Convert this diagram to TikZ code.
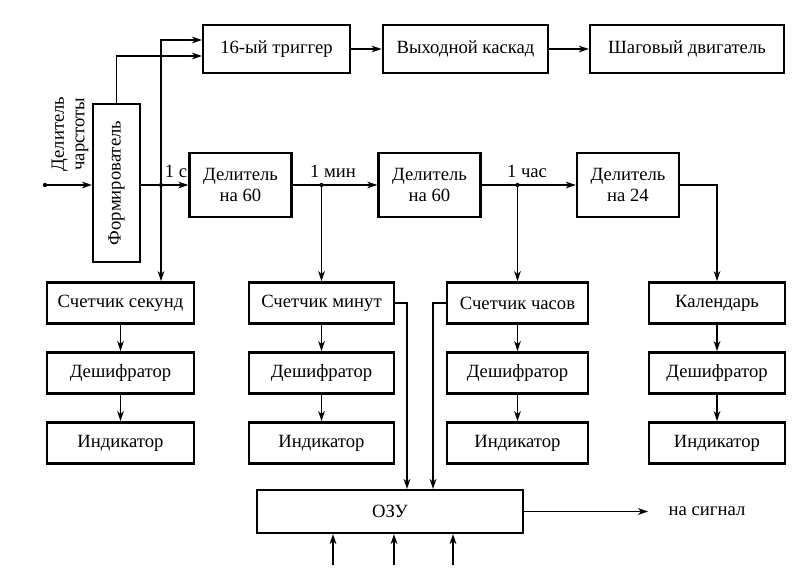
\documentclass[tikz,border=0pt]{standalone}
\usepackage{fontspec}
\setmainfont{Liberation Serif}
\usetikzlibrary{shapes,arrows.meta}
\usetikzlibrary{calc}
\tikzstyle{block} = [rectangle, draw, line width=1.8pt, text centered,
    minimum height=31pt, inner sep=2pt]
\tikzstyle{topblock} = [block, minimum height=36pt]
\tikzstyle{divblock} = [block, align=center, minimum width=76.5pt, minimum height=48pt]
\tikzstyle{link} = [-{Stealth[length=7.5pt,width=5pt,inset=2.2pt]}, line width=1.1pt]

\begin{document}
\begin{tikzpicture}[x=0.75pt, y=-0.75pt, node distance=52.5pt,
    font=\fontsize{14}{15.5}\selectfont]
    \useasboundingbox (0,0) rectangle (804,588);
    % top row
    \node [topblock, minimum width=110pt] (trig) at (276.5,49) {16-ый триггер};
    \node [topblock, minimum width=124pt] (kaskad) at (465.5,49) {Выходной каскад};
    \node [topblock, minimum width=145.5pt] (motor) at (687,49) {Шаговый двигатель};
    % shaper and dividers
    \node [block, minimum width=35pt, minimum height=118.5pt] (form) at (116.5,183) {\rotatebox{90}{Формирователь}};
    \node [divblock] (div1) at (240.5,185) {Делитель\\на 60};
    \node [divblock] (div2) at (429.5,185) {Делитель\\на 60};
    \node [divblock] (div3) at (628,185) {Делитель\\на 24};
    % counters, decoders, indicators
    \node [block, minimum width=110pt] (sec) at (120.5,303) {Счетчик секунд};
    \node [block, minimum width=110pt, below of=sec] (dec1) {Дешифратор};
    \node [block, minimum width=110pt, below of=dec1] (ind1) {Индикатор};
    \node [block, minimum width=109pt] (min) at (321.5,303) {Счетчик минут};
    \node [block, minimum width=109pt, below of=min] (dec2) {Дешифратор};
    \node [block, minimum width=109pt, below of=dec2] (ind2) {Индикатор};
    \node [block, minimum width=106pt] (hrs) at (517.5,303) {Счетчик часов};
    \node [block, minimum width=106pt, below of=hrs] (dec3) {Дешифратор};
    \node [block, minimum width=106pt, below of=dec3] (ind3) {Индикатор};
    \node [block, minimum width=102pt] (cal) at (717,303) {Календарь};
    \node [block, minimum width=102pt, below of=cal] (dec4) {Дешифратор};
    \node [block, minimum width=102pt, below of=dec4] (ind4) {Индикатор};
    \node [block, minimum width=199.5pt, minimum height=32pt] (ozu) at (390,511.5) {ОЗУ};
    \node [anchor=west] (sig) at (664,511.5) {на сигнал};
    % input and labels
    \coordinate (inp) at (45,185);
    \node [rotate=90, align=center] (srcl) at (70,134) {Делитель\\чарстоты};
    \coordinate (d1) at (161,185);
    \coordinate (d2) at (min.north |- div1.east);
    \coordinate (d3) at (hrs.north |- div2.east);
    \node [anchor=base] (l1) at (176,178) {1 с};
    \node [anchor=base] (l2) at (333,178) {1 мин};
    \node [anchor=base] (l3) at (527,178) {1 час};
    \coordinate (in1) at (333,565);
    \coordinate (in2) at (394,565);
    \coordinate (in3) at (453,565);
    % Draw edges
    \fill (inp) circle (1.6pt);
    \fill (d1) circle (1.6pt);
    \fill (d2) circle (1.6pt);
    \fill (d3) circle (1.6pt);
    \draw [link] (inp) -- (form.west |- inp);
    \draw [link] (form.east |- d1) -- (div1.west);
    \draw [link] (form.north) |- ([yshift=-5.25pt]trig.west);
    \draw [link] (d1) |- ([yshift=6.75pt]trig.west);
    \draw [link] (d1) -- (d1 |- sec.north);
    \draw [link] (trig) -- (kaskad);
    \draw [link] (kaskad) -- (motor);
    \draw [link] (div1.east) -- (div2.west);
    \draw [link] (div2.east) -- (div3.west);
    \draw [link] (d2) -- (min.north);
    \draw [link] (d3) -- (hrs.north);
    \draw [link] (div3.east) -| (cal.north);
    \foreach \a/\b in {sec/dec1, dec1/ind1, min/dec2, dec2/ind2, hrs/dec3, dec3/ind3, cal/dec4, dec4/ind4}
        \draw [link] (\a) -- (\b);
    \draw [link] (min.east) -| ([xshift=12.75pt]ozu.north);
    \draw [link] (hrs.west) -| ([xshift=32.25pt]ozu.north);
    \foreach \p in {in1, in2, in3}
        \draw [link] (\p) -- (\p |- ozu.south);
    \draw [link] (ozu.east) -- ([xshift=-12pt]sig.west);
\end{tikzpicture}
\end{document}
